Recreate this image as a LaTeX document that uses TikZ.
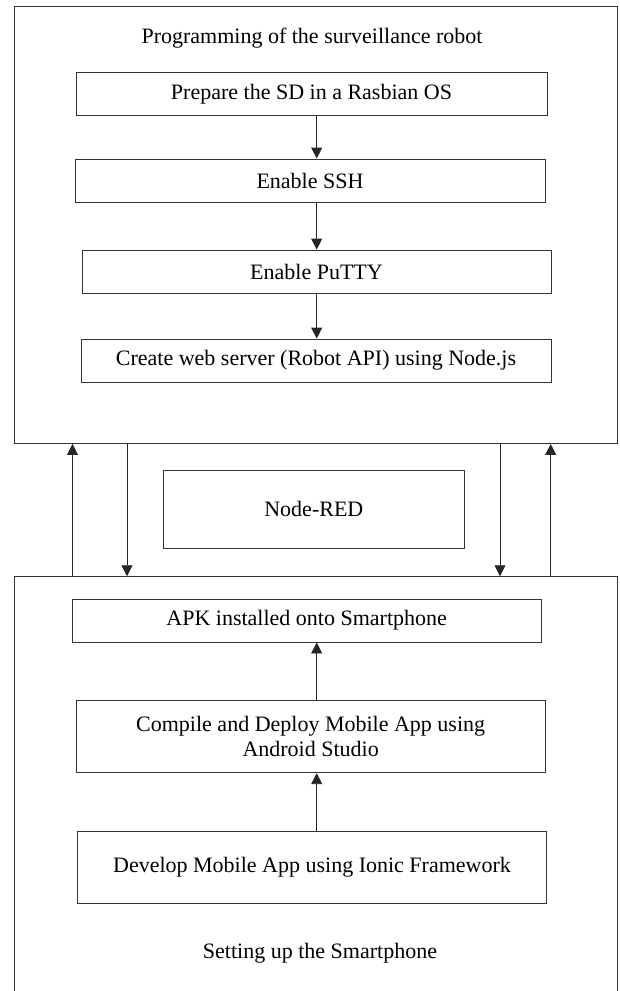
\documentclass[tikz,border=0pt]{standalone}
\usepackage{fontspec}
\setmainfont{Liberation Serif}
\usetikzlibrary{arrows.meta}
\begin{document}
\begin{tikzpicture}[x=1pt,y={(0pt,-1pt)},
  line/.style={draw=black!80, line width=0.9pt},
  txt/.style={font=\fontsize{22}{25.5}\selectfont, align=center},
  stepbox/.style={line, rectangle, inner sep=0pt, txt},
  arr/.style={draw=black!85, line width=0.9pt, -{Triangle[length=11pt,width=11pt]}}]
\useasboundingbox (0,0) rectangle (619,991);
% outer containers
\node[line, rectangle, inner sep=0pt, minimum width=603.5pt, minimum height=437.5pt] (top) at (315.75,224.75) {};
\node[line, rectangle, inner sep=0pt, minimum width=603.5pt, minimum height=433.3pt] (bot) at (315.75,793.35) {};
% titles
\node[txt] (ttl) at (312,38) {Programming of the surveillance robot};
\node[txt] (btl) at (320,953) {Setting up the Smartphone};
% top steps
\node[stepbox, minimum width=471pt, minimum height=43pt] (prep) at (311.5,94.2) {Prepare the SD in a Rasbian OS};
\node[stepbox, minimum width=470pt, minimum height=43pt] (ssh) at (310,180.5) {Enable SSH};
\node[stepbox, minimum width=469pt, minimum height=43pt] (putty) at (316.5,271.5) {Enable PuTTY};
\node[stepbox, minimum width=470pt, minimum height=43pt] (web) at (316,360.5) {Create web server (Robot API) using Node.js};
% middle
\node[stepbox, minimum width=301pt, minimum height=77.3pt] (red) at (313.85,509.35) {Node-RED};
% bottom steps
\node[stepbox, minimum width=469.3pt, minimum height=43pt] (apk) at (306.65,620.5) {APK installed onto Smartphone};
\node[stepbox, minimum width=469.3pt, minimum height=72pt] (comp) at (310.65,736.7) {Compile and Deploy Mobile App using\\Android Studio};
\node[stepbox, minimum width=469.4pt, minimum height=72.3pt] (dev) at (312,867.15) {Develop Mobile App using Ionic Framework};
% connector columns
\coordinate (cx) at (316.7,0);
\coordinate (c1) at (72.5,0);
\coordinate (c2) at (127,0);
\coordinate (c3) at (500,0);
\coordinate (c4) at (550.7,0);
% top arrows
\draw[arr] (prep.south -| cx) -- (ssh.north -| cx);
\draw[arr] (ssh.south -| cx) -- (putty.north -| cx);
\draw[arr] (putty.south -| cx) -- (web.north -| cx);
% bottom arrows
\draw[arr] (comp.north -| cx) -- (apk.south -| cx);
\draw[arr] (dev.north -| cx) -- (comp.south -| cx);
% between containers
\draw[arr] (bot.north -| c1) -- (top.south -| c1);
\draw[arr] (top.south -| c2) -- (bot.north -| c2);
\draw[arr] (top.south -| c3) -- (bot.north -| c3);
\draw[arr] (bot.north -| c4) -- (top.south -| c4);
\end{tikzpicture}
\end{document}
